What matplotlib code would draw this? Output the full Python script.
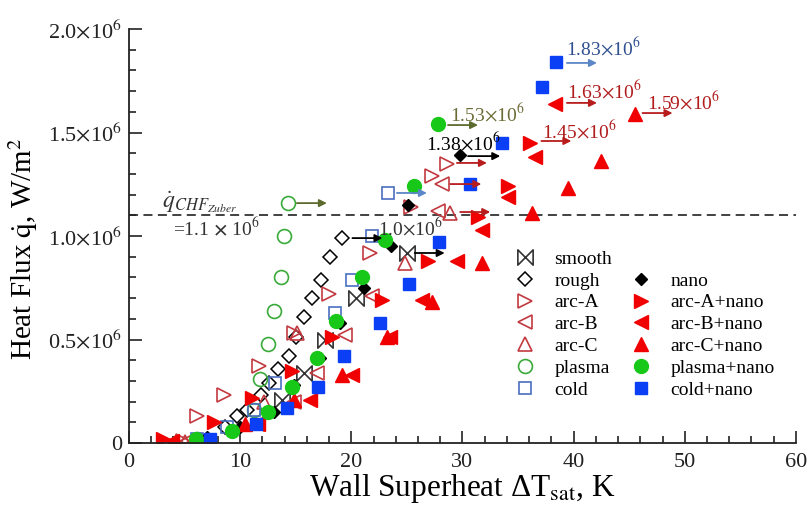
import matplotlib
matplotlib.use('Agg')
import matplotlib.pyplot as plt
from matplotlib.lines import Line2D
from matplotlib.path import Path
from matplotlib.ticker import MultipleLocator, FixedLocator, FixedFormatter

plt.rcParams['font.family'] = ['Liberation Serif', 'DejaVu Serif']
plt.rcParams['mathtext.fontset'] = 'stix'

# wall superheat (K) and heat flux (10^6 W/m2)
smooth_x = [6.8, 13.8, 15.7, 17.6, 20.4, 25.0]
smooth_q = [0.0, 0.21, 0.34, 0.50, 0.70, 0.92]

rough_x = [8.6, 9.7, 10.6, 11.9, 12.6, 13.4, 14.4, 15.0, 15.7, 16.5, 17.3, 18.1, 19.2]
rough_q = [0.08, 0.13, 0.16, 0.23, 0.29, 0.36, 0.42, 0.51, 0.61, 0.70, 0.79, 0.90, 0.99]

nano_x = [7.0, 10.0, 13.0, 14.8, 17.2, 19.0, 21.1, 23.6, 25.1, 29.8]
nano_q = [0.03, 0.08, 0.15, 0.28, 0.41, 0.58, 0.75, 0.95, 1.15, 1.39]

arcA_x = [4.9, 6.1, 8.5, 11.7, 14.8, 18.0, 21.7, 25.4, 27.3, 28.6]
arcA_q = [0.01, 0.13, 0.23, 0.37, 0.53, 0.72, 0.92, 1.14, 1.29, 1.35]

arcB_x = [5.2, 11.5, 14.8, 16.9, 19.4, 21.9, 27.8, 28.2]
arcB_q = [0.01, 0.09, 0.20, 0.34, 0.52, 0.71, 1.12, 1.25]

arcC_x = [5.0, 12.1, 15.1, 24.8, 28.9]
arcC_q = [0.005, 0.20, 0.53, 0.87, 1.11]

plasma_x = [6.1, 11.2, 11.8, 12.5, 13.0, 13.7, 13.9, 14.3]
plasma_q = [0.02, 0.16, 0.31, 0.48, 0.64, 0.80, 1.00, 1.16]

cold_x = [6.1, 8.8, 11.2, 13.1, 18.5, 20.1, 21.9, 23.3]
cold_q = [0.02, 0.08, 0.16, 0.29, 0.63, 0.79, 1.00, 1.21]

arcAn_x = [3.1, 7.6, 11.1, 14.7, 18.3, 22.8, 26.9, 31.4, 34.1, 36.1]
arcAn_q = [0.02, 0.10, 0.22, 0.35, 0.51, 0.69, 0.88, 1.09, 1.24, 1.45]

arcBn_x = [3.9, 11.6, 16.3, 20.1, 23.5, 26.4, 29.5, 31.8, 34.1, 36.5, 38.3]
arcBn_q = [0.01, 0.09, 0.21, 0.33, 0.51, 0.69, 0.88, 1.03, 1.19, 1.38, 1.64]

arcCn_x = [4.1, 10.4, 14.8, 19.2, 23.2, 27.3, 31.8, 36.3, 39.5, 42.5, 45.5]
arcCn_q = [0.005, 0.09, 0.21, 0.33, 0.51, 0.68, 0.87, 1.11, 1.23, 1.36, 1.59]

plasman_x = [6.0, 9.3, 12.5, 14.7, 16.9, 18.6, 21.0, 23.0, 25.6, 27.8]
plasman_q = [0.02, 0.06, 0.15, 0.27, 0.41, 0.59, 0.80, 0.98, 1.24, 1.54]

coldn_x = [7.3, 11.4, 14.2, 17.0, 19.3, 22.6, 25.2, 27.9, 30.7, 33.6, 37.2, 38.4]
coldn_q = [0.02, 0.09, 0.17, 0.27, 0.42, 0.58, 0.77, 0.97, 1.25, 1.45, 1.72, 1.84]

q_zuber = 1.1

# CHF arrows: start x, end x, y, colour
chf_arrows = [
    (39.4, 42.1, 1.836, '#5b86c8'),
    (39.4, 42.1, 1.643, '#b81c1c'),
    (46.2, 48.9, 1.594, '#b81c1c'),
    (37.1, 39.8, 1.459, '#b81c1c'),
    (28.7, 31.4, 1.536, '#5d6a2e'),
    (30.5, 33.4, 1.386, 'black'),
    (29.5, 32.2, 1.353, '#b81c1c'),
    (28.9, 31.7, 1.251, '#b81c1c'),
    (29.8, 32.5, 1.116, '#b81c1c'),
    (24.1, 26.8, 1.208, '#5b86c8'),
    (20.1, 22.8, 0.990, 'black'),
    (25.7, 28.4, 0.918, 'black'),
    (15.1, 17.8, 1.159, '#5d6a2e'),
]

# CHF value labels: x, y, text, colour
chf_labels = [
    (39.3, 1.91, '1.83', '#2f4f8f'),
    (39.4, 1.70, '1.63', '#b01c1c'),
    (46.6, 1.65, '1.59', '#b01c1c'),
    (37.2, 1.51, '1.45', '#b01c1c'),
    (28.9, 1.59, '1.53', '#6b6b35'),
    (26.7, 1.45, '1.38', 'black'),
    (22.4, 1.04, '1.0', '#333333'),
]

fig = plt.figure(figsize=(8.08, 5.14), dpi=100)
ax = fig.add_axes([0.1597, 0.138, 0.8253, 0.8056])

bowtie = Path([(-1, 1), (-1, -1), (1, 1), (1, -1), (-1, 1)],
              [Path.MOVETO, Path.LINETO, Path.LINETO, Path.LINETO, Path.CLOSEPOLY])

dred = '#c23a40'
red = '#f00000'
lgreen = '#3aaa3a'
green = '#18c818'
lblue = '#4a6fc0'
blue = '#0b3ff5'

kw = dict(linestyle='none')
h_smooth, = ax.plot(smooth_x, smooth_q, marker=bowtie, ms=11, mfc='none', mec='#333333', mew=1.2, label='smooth', **kw)
h_rough, = ax.plot(rough_x, rough_q, marker='D', ms=7.5, mfc='none', mec='black', mew=1.1, label='rough', **kw)
h_arcA, = ax.plot(arcA_x, arcA_q, marker='>', ms=10, mfc='none', mec=dred, mew=1.2, label='arc-A', **kw)
h_arcB, = ax.plot(arcB_x, arcB_q, marker='<', ms=10, mfc='none', mec=dred, mew=1.2, label='arc-B', **kw)
h_arcC, = ax.plot(arcC_x, arcC_q, marker='^', ms=10, mfc='none', mec=dred, mew=1.2, label='arc-C', **kw)
h_plasma, = ax.plot(plasma_x, plasma_q, marker='o', ms=10, mfc='none', mec=lgreen, mew=1.2, label='plasma', **kw)
h_cold, = ax.plot(cold_x, cold_q, marker='s', ms=9, mfc='none', mec=lblue, mew=1.2, label='cold', **kw)

h_nano, = ax.plot(nano_x, nano_q, marker='D', ms=6.5, color='black', label='nano', **kw)
h_arcAn, = ax.plot(arcAn_x, arcAn_q, marker='>', ms=10, color=red, label='arc-A+nano', **kw)
h_arcBn, = ax.plot(arcBn_x, arcBn_q, marker='<', ms=10, color=red, label='arc-B+nano', **kw)
h_arcCn, = ax.plot(arcCn_x, arcCn_q, marker='^', ms=10, color=red, label='arc-C+nano', **kw)
h_plasman, = ax.plot(plasman_x, plasman_q, marker='o', ms=10, color=green, label='plasma+nano', **kw)
h_coldn, = ax.plot(coldn_x, coldn_q, marker='s', ms=9, color=blue, label='cold+nano', **kw)

ax.axhline(q_zuber, color='#333333', lw=1.3, linestyle=(0, (5, 3)), zorder=0)

for x0, x1, y, c in chf_arrows:
    ax.annotate('', xy=(x1, y), xytext=(x0, y),
                arrowprops=dict(arrowstyle='-|>', color=c, lw=1.3, mutation_scale=11,
                                shrinkA=0, shrinkB=0))

for x, y, t, c in chf_labels:
    ax.text(x, y, t + r'$\times$10$^6$', color=c, fontsize=14, va='center')

ax.text(3.0, 1.165, r'$\dot{q}_{CHF_{Zuber}}$', color='#333333', fontsize=17, va='center')
ax.text(4.0, 1.04, r'=1.1 $\mathbf{\times}$ 10$^6$', color='#333333', fontsize=14, va='center')

ax.set_xlim(0, 60)
ax.set_ylim(0, 2.0)
ax.xaxis.set_major_locator(MultipleLocator(10))
ax.xaxis.set_minor_locator(MultipleLocator(2))
ax.yaxis.set_major_locator(FixedLocator([0, 0.5, 1.0, 1.5, 2.0]))
ax.yaxis.set_major_formatter(FixedFormatter(['0', r'0.5$\times$10$^6$', r'1.0$\times$10$^6$',
                                             r'1.5$\times$10$^6$', r'2.0$\times$10$^6$']))
ax.yaxis.set_minor_locator(MultipleLocator(0.1))
ax.tick_params(which='both', direction='in', width=1.2, labelsize=16, colors='#222222')
ax.tick_params(which='major', length=9)
ax.tick_params(which='minor', length=5)
ax.tick_params(axis='x', pad=7)
ax.tick_params(axis='y', pad=5)
for s in ['top', 'right']:
    ax.spines[s].set_visible(False)
for s in ['left', 'bottom']:
    ax.spines[s].set_linewidth(1.3)
    ax.spines[s].set_color('#222222')

ax.set_xlabel(r'Wall Superheat ΔT$_{\mathrm{sat}}$, K', fontsize=22.5, labelpad=0)
ax.set_ylabel(r'Heat Flux $\dot{\mathrm{q}}$, W/m$^2$', fontsize=21)
ax.yaxis.set_label_coords(-0.133, 0.47)

blank = Line2D([], [], linestyle='none', marker=None)
handles = [h_smooth, h_rough, h_arcA, h_arcB, h_arcC, h_plasma, h_cold,
           blank, h_nano, h_arcAn, h_arcBn, h_arcCn, h_plasman, h_coldn]
labels = [h.get_label() for h in handles[:7]] + [''] + [h.get_label() for h in handles[8:]]
ax.legend(handles, labels, ncol=2, loc='upper left', bbox_to_anchor=(0.565, 0.485),
          frameon=False, fontsize=14, numpoints=1, handlelength=1.2, handletextpad=0.9,
          columnspacing=0.9, labelspacing=0.22, borderaxespad=0)

fig.savefig('out.png', dpi=100)
